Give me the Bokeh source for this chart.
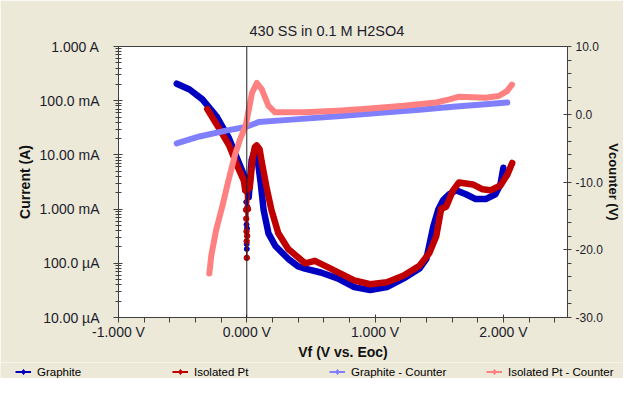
from bokeh.plotting import figure
from bokeh.layouts import column
from bokeh.models import Range1d, LinearAxis, LinearScale, FixedTicker, Span, Legend, LegendItem
from bokeh.embed import file_html
from bokeh.resources import INLINE

# ---------------- data ----------------
title_text = "430 SS in 0.1 M H2SO4"
series_names = ["Graphite", "Isolated Pt", "Graphite - Counter", "Isolated Pt - Counter"]

# Graphite: current (A) vs Vf (V vs. Eoc)
graphite_v = [-0.546, -0.446, -0.346, -0.238, -0.138, -0.077, -0.023, -0.008, 0.015, 0.038,
              0.062, 0.085, 0.108, 0.131, 0.169, 0.223, 0.323, 0.400, 0.454, 0.577, 0.708,
              0.838, 0.962, 1.092, 1.223, 1.346, 1.400, 1.454, 1.492, 1.531, 1.577, 1.631,
              1.708, 1.785, 1.862, 1.938, 1.977, 2.000]
graphite_i = [0.206, 0.161, 0.106, 0.0523, 0.0201, 0.00875, 0.00432, 0.00285, 0.00166, 0.00805,
              0.0122, 0.00805, 0.0031, 9.7e-4, 3.57e-4, 2.08e-4, 1.21e-4, 8.8e-5, 8.0e-5, 6.76e-5, 5.27e-5,
              3.63e-5, 3.2e-5, 3.63e-5, 5.27e-5, 8.0e-5, 1.21e-4, 4.77e-4, 9.7e-4, 1.47e-3, 1.88e-3, 2.22e-3,
              1.88e-3, 1.53e-3, 1.53e-3, 1.88e-3, 2.85e-3, 5.78e-3]
# Graphite: sparse points where the current crosses zero
graphite_dip_v = [-0.008, -0.004, -0.002, -0.001, 0.000, 0.002, 0.005, 0.015]
graphite_dip_i = [2.85e-3, 1.35e-3, 5.19e-4, 2.26e-4, 1.84e-4, 4.4e-4, 1.1e-3, 1.66e-3]

# Isolated Pt
pt_v = [-0.308, -0.215, -0.138, -0.077, -0.023, -0.012, 0.023, 0.046, 0.062, 0.077, 0.100,
        0.115, 0.154, 0.192, 0.246, 0.323, 0.454, 0.531, 0.654, 0.838, 0.962, 1.092, 1.223,
        1.346, 1.423, 1.477, 1.515, 1.554, 1.608, 1.654, 1.762, 1.838, 1.900, 1.977, 2.031, 2.069]
pt_i = [0.070, 0.0305, 0.0150, 0.00655, 0.00336, 0.00222, 0.0025, 0.00875, 0.0138, 0.0150, 0.0127,
        0.00773, 0.00251, 9.7e-4, 3.57e-4, 1.84e-4, 1.0e-4, 1.11e-4, 8.0e-5, 4.85e-5, 4.11e-5, 4.47e-5, 5.97e-5,
        9.05e-5, 1.55e-4, 3.15e-4, 1.01e-3, 1.1e-3, 2.22e-3, 3.1e-3, 2.85e-3, 2.32e-3, 2.22e-3, 2.73e-3, 4.32e-3, 7.1e-3]
pt_dip_v = [-0.012, -0.006, -0.004, -0.002, -0.001, 0.000, 0.003, 0.010, 0.023]
pt_dip_i = [2.22e-3, 9.7e-4, 6.65e-4, 3.87e-4, 2.56e-4, 1.26e-4, 3.2e-4, 1.0e-3, 2.5e-3]

# Counter electrode potentials (V)
gc_v = [-0.546, -0.369, -0.162, -0.008, 0.092, 0.323, 0.708, 1.092, 1.346, 1.608, 1.862, 2.031]
gc_vc = [-4.30, -3.28, -2.42, -1.88, -1.16, -0.83, -0.29, 0.28, 0.66, 1.10, 1.48, 1.73]

ptc_v = [-0.292, -0.277, -0.238, -0.192, -0.146, -0.092, -0.054, -0.008, 0.041, 0.079, 0.118,
         0.169, 0.221, 0.451, 0.708, 0.964, 1.221, 1.477, 1.579, 1.656, 1.862, 1.964, 2.028, 2.067]
ptc_vc = [-23.5, -20.9, -17.0, -13.7, -10.0, -6.0, -3.8, -1.65, 3.17, 4.62, 3.65,
          1.24, 0.28, 0.28, 0.52, 0.86, 1.24, 1.73, 2.20, 2.60, 2.45, 2.69, 3.41, 4.37]

# axis ticks and labels
x_ticks = [-1, 0, 1, 2]
x_tick_labels = ["-1.000 V", "0.000 V", "1.000 V", "2.000 V"]
i_ticks = [1e-5, 1e-4, 1e-3, 1e-2, 1e-1, 1.0]
i_tick_labels = ["10.00 µA", "100.0 µA", "1.000 mA", "10.00 mA", "100.0 mA", "1.000 A"]
vc_ticks = [-30, -20, -10, 0, 10]
vc_tick_labels = ["-30.0", "-20.0", "-10.0", "0.0", "10.0"]

# ---------------- styling ----------------
FONT = "Liberation Sans"
BG = "#ECE9D8"
TXT = "#1c1c2c"
C_GR = "#0000C0"
C_PT = "#C00000"
C_GC = "#8080FF"
C_PC = "#FF8080"
COLORS = [C_GR, C_PT, C_GC, C_PC]

p = figure(width=623, height=362,
           x_range=Range1d(-1, 2.5), y_range=Range1d(1e-5, 1), y_axis_type="log",
           output_backend="svg", toolbar_location=None,
           min_border_left=118, min_border_right=51, min_border_top=46, min_border_bottom=39,
           border_fill_color=BG, background_fill_color="white",
           outline_line_color="#404040")
p.extra_y_ranges = {"vc": Range1d(-30, 10)}
p.extra_y_scales = {"vc": LinearScale()}
p.grid.visible = False

p.title.text = title_text
p.title.align = "left"
p.title.offset = 131
p.title.text_font = FONT
p.title.text_font_size = "14.5px"
p.title.text_font_style = "normal"
p.title.text_color = TXT
p.title.standoff = 16

# x axis
xa = p.xaxis[0]
xa.ticker = FixedTicker(ticks=x_ticks, minor_ticks=[round(-1 + 0.2 * k, 1) for k in range(1, 18) if k % 5 != 0])
xa.major_label_overrides = dict(zip(x_ticks, x_tick_labels))
xa.axis_label = "Vf (V vs. Eoc)"

# left (log) axis
ya = p.yaxis[0]
minor_i = [m * 10.0 ** e for e in range(-5, 0) for m in range(2, 10)]
ya.ticker = FixedTicker(ticks=i_ticks, minor_ticks=minor_i)
ya.major_label_overrides = dict(zip(i_ticks, i_tick_labels))
ya.axis_label = "Current (A)"

# right axis
ra = LinearAxis(y_range_name="vc", axis_label="Vcounter (V)")
ra.ticker = FixedTicker(ticks=vc_ticks, minor_ticks=[v for v in range(-28, 10, 2) if v % 10 != 0])
ra.major_label_overrides = dict(zip(vc_ticks, vc_tick_labels))
p.add_layout(ra, "right")

for ax in (xa, ya, ra):
    ax.axis_line_color = "#404040"
    ax.major_tick_line_color = "#404040"
    ax.minor_tick_line_color = "#404040"
    ax.major_label_text_font = FONT
    ax.major_label_text_color = TXT
    ax.axis_label_text_font = FONT
    ax.axis_label_text_font_style = "bold"
    ax.axis_label_text_color = "#111111"

xa.major_label_text_font_size = "14px"
xa.axis_label_text_font_size = "14px"
xa.major_tick_in = 3
xa.major_tick_out = 5
xa.minor_tick_in = 0
xa.minor_tick_out = 5
xa.major_label_standoff = 1
xa.axis_label_standoff = 1

ya.major_label_text_font_size = "14px"
ya.axis_label_text_font_size = "14px"
ya.major_tick_in = 4
ya.major_tick_out = 5
ya.minor_tick_in = 3
ya.minor_tick_out = 3
ya.major_label_standoff = 14
ya.axis_label_standoff = 4

ra.major_label_text_font_size = "12px"
ra.axis_label_text_font_size = "13px"
ra.major_tick_in = 4
ra.major_tick_out = 4
ra.minor_tick_in = 0
ra.minor_tick_out = 4
ra.major_label_standoff = 4
ra.axis_label_standoff = 0

# zero line
p.add_layout(Span(location=0, dimension="height", line_color="#202020", line_width=1))

# ---------------- data marks ----------------
p.line(graphite_v, graphite_i, line_color=C_GR, line_width=6.5, line_join="round", line_cap="round")
p.line(graphite_dip_v, graphite_dip_i, line_color=C_GR, line_width=1.5)
p.scatter(graphite_dip_v, graphite_dip_i, size=5, fill_color=C_GR, line_color=C_GR)

p.line(pt_v, pt_i, line_color=C_PT, line_width=6.5, line_join="round", line_cap="round")
p.line(pt_dip_v, pt_dip_i, line_color=C_PT, line_width=1.5)
p.scatter(pt_dip_v, pt_dip_i, size=5.5, fill_color=C_PT, line_color=C_PT)

p.line(gc_v, gc_vc, y_range_name="vc", line_color=C_GC, line_width=6, line_join="round", line_cap="round")
p.line(ptc_v, ptc_vc, y_range_name="vc", line_color=C_PC, line_width=6, line_join="round", line_cap="round")

# ---------------- legend strip below the chart ----------------
# The strip's ranges lie outside every value, so its series only feed the legend swatches.
lf = figure(width=623, height=16, x_range=Range1d(0, 1), y_range=Range1d(100, 101),
            x_axis_location=None, y_axis_location=None,
            output_backend="svg", toolbar_location=None, min_border=0,
            min_border_left=0, min_border_right=0, min_border_top=0, min_border_bottom=0,
            border_fill_color=BG, background_fill_color=BG, outline_line_color=None)
lf.grid.visible = False
for fig in (p, lf):
    try:
        fig.frame_align = False
    except Exception:
        pass

series_xy = [(graphite_v, graphite_i), (pt_v, pt_i), (gc_v, gc_vc), (ptc_v, ptc_vc)]
items = []
for name, col, (sx, sy) in zip(series_names, COLORS, series_xy):
    lr = lf.line(sx, sy, line_color=col, line_width=2)
    sr = lf.scatter(sx, sy, marker="diamond", size=8, fill_color=col, line_color=col, line_width=1)
    items.append(LegendItem(label=name, renderers=[lr, sr], index=0))

legend = Legend(items=items, orientation="horizontal", location=(15, 0),
                padding=1, margin=0, spacing=5, label_standoff=6,
                glyph_width=16, glyph_height=13, label_height=13, label_width=130,
                label_text_font=FONT, label_text_font_size="11.5px", label_text_color="#000000",
                border_line_color=None,
                background_fill_color=BG, background_fill_alpha=1.0,
                click_policy="none")
lf.add_layout(legend, "center")

layout = column(p, lf, spacing=0)
open("out.html", "w").write(file_html(layout, INLINE))
